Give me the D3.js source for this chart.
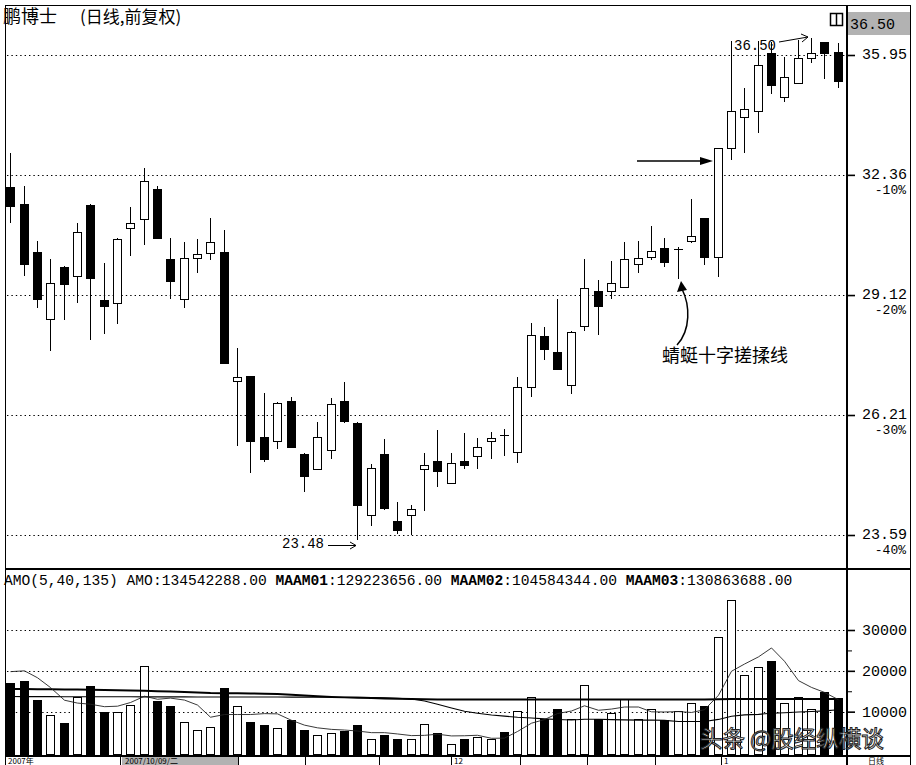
<!DOCTYPE html>
<html><head><meta charset="utf-8"><title>鹏博士</title>
<script src="https://cdn.jsdelivr.net/npm/d3@7/dist/d3.min.js"></script>
<style>
html,body{margin:0;padding:0;background:#fff;overflow:hidden}
svg{display:block}
.mono{font-family:"Liberation Mono","DejaVu Sans Mono",monospace}
.cjk{font-family:"Noto Sans CJK SC","Noto Sans",sans-serif}
</style></head><body>
<svg id="chart" width="916" height="765"></svg>
<script>
// ---------------- data ----------------
const opens  = [32.02,31.54,30.24,28.51,29.85,29.61,31.51,28.99,28.92,30.88,31.13,31.96,30.06,29.02,30.08,30.21,30.24,27.00,27.12,25.71,25.62,26.53,25.33,24.99,25.42,26.53,26.03,24.01,25.33,23.88,24.01,24.99,25.17,24.69,25.17,25.28,25.62,25.76,25.37,26.86,28.09,27.70,26.91,28.34,29.22,29.22,29.33,29.92,30.11,30.35,30.32,30.53,31.16,30.11,33.13,34.05,34.23,36.01,34.65,35.08,35.86,36.36,36.05];
const highs  = [32.99,32.04,30.53,30.06,29.87,31.02,31.53,29.95,30.61,31.46,32.55,32.04,30.61,30.51,30.59,31.16,30.83,27.80,27.13,26.72,26.50,26.63,25.34,26.05,26.60,26.98,26.05,25.11,25.66,24.28,24.22,25.35,25.87,25.35,25.80,25.68,25.82,25.89,27.10,28.41,28.31,29.02,28.22,30.06,29.51,30.00,30.51,30.53,30.94,30.61,30.38,31.68,31.17,33.14,36.40,34.92,36.40,36.36,35.89,36.43,36.50,36.37,36.33];
const lows   = [31.02,29.61,28.79,27.72,28.49,28.92,27.99,28.14,28.39,30.13,30.43,30.59,29.02,28.79,29.69,30.03,27.42,25.50,24.91,25.15,25.44,25.46,24.50,24.99,25.22,26.03,23.48,23.77,24.11,23.61,23.59,24.09,24.60,24.69,24.99,24.99,25.22,25.28,25.13,26.63,27.50,27.28,26.70,28.21,28.12,29.02,29.33,29.69,30.03,29.85,29.53,30.48,29.90,29.58,32.78,32.99,33.57,34.74,34.50,35.08,35.70,35.20,34.92];
const closes = [31.49,29.92,29.02,29.43,29.40,30.78,29.56,28.84,30.59,31.02,32.19,30.61,29.48,30.08,30.19,30.51,27.43,27.10,25.62,25.22,26.49,25.48,24.84,25.71,26.46,26.07,24.22,25.02,24.15,23.69,24.13,25.08,24.95,25.13,25.08,25.48,25.68,25.75,26.86,28.12,27.77,27.29,28.19,29.30,28.84,29.43,30.06,30.08,30.27,29.98,30.33,30.67,30.11,33.13,34.23,34.29,35.64,35.02,35.26,35.86,36.01,36.01,35.14];
// turnover (AMO), in 10^4 yuan
const amounts = [17000,17600,12900,9300,7200,13500,16200,9900,9900,11700,21200,12500,11300,7500,5600,6300,15800,11300,7500,6700,6000,7900,5400,4200,4800,5200,6700,3400,4200,3200,3200,7000,4800,2100,3400,3800,3300,5000,10200,13600,8200,10700,8100,16600,8100,9700,13200,8100,10700,7900,10200,12100,11500,28400,37300,19000,20900,22400,12100,13600,10700,14800,13450];
const maam1 = [19800,20000,18300,15900,12800,12100,11820,11220,11340,12240,13780,13040,13320,12840,11620,8640,9300,9300,9300,9520,9460,7880,6700,6040,5660,5500,5260,4860,4860,4540,4140,4200,4480,4060,4100,4220,3480,3520,5140,7180,8060,9540,10160,11440,10340,10640,11140,11140,9960,9920,10020,9800,10480,14020,19900,21660,23420,25600,22340,17600,15940,14720,12920];
const maam2 = [13700,13690,13680,13680,13670,13660,13650,13650,13640,13640,13630,13630,13620,13620,13610,13610,13600,13600,13590,13590,13580,13570,13560,13550,13530,13510,13490,13460,13420,13300,13100,12600,11800,10900,10100,9600,9200,8900,8650,8458,8238,8065,7945,8128,8150,8055,7980,7935,7955,7860,7585,7575,7580,8103,8895,9213,9340,9618,9733,9905,10023,10195,10458];
const maam3 = [15550,15530,15500,15480,15450,15430,15380,15320,15250,15180,15100,15020,14940,14820,14700,14570,14530,14490,14450,14390,14330,14150,13960,13780,13600,13500,13400,13320,13230,13160,13090,13030,13010,13000,12990,12990,12980,12980,12980,12980,12980,12980,12980,12990,12990,12990,12990,13000,13000,13000,13000,13000,13000,13030,13080,13090,13100,13110,13100,13100,13090,13090,13086];
const priceTicks = [35.95, 32.36, 29.12, 26.21, 23.59];
const pctLabels  = ["", "-10%", "-20%", "-30%", "-40%"];
const volTicks = [10000, 20000, 30000];
const volMinor = [5000, 15000, 25000];
const titleName = "鹏博士";
const titleSub = "(日线,前复权)";
const volHeader = [["AMO(5,40,135) ",false],["AMO:134542288.00 ",false],["MAAM01",true],[":129223656.00 ",false],["MAAM02",true],[":104584344.00 ",false],["MAAM03",true],[":130863688.00",false]];
const dateCells = [
  {x0:5,  x1:120, t:"2007年", hl:false},
  {x0:122,x1:238, t:"2007/10/09/二", hl:true},
  {x0:451,x1:520, t:"12", hl:false},
  {x0:721,x1:848, t:"1", hl:false}
];
const dateDividers = [120,238,305,379,451,520,587,655,721];

// ---------------- layout ----------------
const svg = d3.select("#chart");
const N = opens.length;
const idx = d3.range(N);
const L = 5, R = 847, RA = 910;
const x = d3.scaleBand().domain(idx).range([4, 845]).paddingInner(0.326).paddingOuter(0.163);
const bw = Math.round(x.bandwidth());
const left = i => Math.round(x(i));
const y = d3.scaleLog().domain([23.59, 35.95]).range([535, 55]);
const vy = d3.scaleLinear().domain([0, 30000]).range([752.5, 630]);

svg.append("rect").attr("width",916).attr("height",765).attr("fill","#fff");

// dotted grids
const grid = svg.append("g").attr("stroke","#000").attr("stroke-width",1.2).attr("stroke-dasharray","1.4,3");
grid.selectAll("line.pg").data(priceTicks).join("line").attr("class","pg")
  .attr("x1",L+2).attr("x2",R-1).attr("y1",d=>Math.round(y(d))+0.5).attr("y2",d=>Math.round(y(d))+0.5);
grid.selectAll("line.vg").data(volTicks).join("line").attr("class","vg")
  .attr("x1",L+2).attr("x2",R-1).attr("y1",d=>Math.round(vy(d))+0.5).attr("y2",d=>Math.round(vy(d))+0.5);

// candles
const cg = svg.append("g").attr("shape-rendering","crispEdges");
cg.selectAll("line.wick").data(idx).join("line").attr("class","wick")
  .attr("x1",i=>left(i)+4.5).attr("x2",i=>left(i)+4.5)
  .attr("y1",i=>y(highs[i])).attr("y2",i=>y(lows[i])).attr("stroke","#000");
idx.forEach(i=>{
  const o=opens[i], c=closes[i];
  const up = c>=o;
  const t = Math.round(y(Math.max(o,c))), b = Math.round(y(Math.min(o,c)));
  if (b - t < 2) {
    cg.append("line").attr("x1",left(i)).attr("x2",left(i)+bw).attr("y1",t+0.5).attr("y2",t+0.5).attr("stroke","#000").attr("stroke-width",1.5);
  } else {
    cg.append("rect").attr("x",left(i)+0.5).attr("y",t+0.5).attr("width",bw-1).attr("height",b-t)
      .attr("fill",up?"#fff":"#000").attr("stroke","#000");
  }
});

// volume bars
const vg = svg.append("g").attr("shape-rendering","crispEdges");
vg.selectAll("rect").data(idx).join("rect")
  .attr("x",i=>left(i)+0.5).attr("y",i=>Math.round(vy(amounts[i]))+0.5)
  .attr("width",bw-1).attr("height",i=>754-Math.round(vy(amounts[i])))
  .attr("fill",i=>closes[i]>=opens[i]?"#fff":"#000").attr("stroke","#000");

// moving averages
const line = arr => d3.line().x((d,i)=>left(i)+4.5).y(d=>vy(d))(arr);
svg.append("path").attr("d",line(maam3)).attr("fill","none").attr("stroke","#000").attr("stroke-width",2);
svg.append("path").attr("d",line(maam2)).attr("fill","none").attr("stroke","#000").attr("stroke-width",1.1);
svg.append("path").attr("d",line(maam1)).attr("fill","none").attr("stroke","#222").attr("stroke-width",0.9);

// frame
const fr = svg.append("g").attr("stroke","#000").attr("shape-rendering","crispEdges");
fr.append("line").attr("x1",L).attr("x2",RA+1).attr("y1",5.5).attr("y2",5.5);
fr.append("line").attr("x1",L+0.5).attr("x2",L+0.5).attr("y1",5).attr("y2",765);
fr.append("line").attr("x1",RA+0.5).attr("x2",RA+0.5).attr("y1",5).attr("y2",765);
fr.append("line").attr("x1",R).attr("x2",R).attr("y1",5).attr("y2",765).attr("stroke-width",2);
fr.append("line").attr("x1",L).attr("x2",RA+1).attr("y1",569).attr("y2",569).attr("stroke-width",2);
fr.append("line").attr("x1",L).attr("x2",RA+1).attr("y1",756).attr("y2",756).attr("stroke-width",1.5);

// price axis
const pa = svg.append("g").attr("transform",`translate(${R},0)`)
  .call(d3.axisRight(y).tickValues(priceTicks).tickFormat(d3.format(".2f")).tickSize(8).tickPadding(7));
pa.select(".domain").remove();
pa.selectAll(".tick line").attr("stroke-width",1.6);
pa.selectAll(".tick text").attr("class","mono").attr("font-size",15).attr("fill","#000").attr("dy","0.25em");
svg.append("g").selectAll("text").data(priceTicks.slice(1)).join("text").attr("class","mono")
  .attr("x",906).attr("y",d=>y(d)+19).attr("text-anchor","end").attr("font-size",13).text((d,i)=>pctLabels[i+1]);

// volume axis
const va = svg.append("g").attr("transform",`translate(${R},0)`)
  .call(d3.axisRight(vy).tickValues(volTicks).tickFormat(d3.format("d")).tickSize(8).tickPadding(7));
va.select(".domain").remove();
va.selectAll(".tick line").attr("stroke-width",1.6);
va.selectAll(".tick text").attr("class","mono").attr("font-size",15).attr("fill","#000");
const vm = svg.append("g").attr("transform",`translate(${R},0)`)
  .call(d3.axisRight(vy).tickValues(volMinor).tickFormat("").tickSize(5));
vm.select(".domain").remove();

// title
svg.append("text").attr("class","cjk").attr("x",3).attr("y",23).attr("font-size",18).text(titleName);
svg.append("text").attr("class","cjk").attr("x",80).attr("y",23).attr("font-size",17).text(titleSub);
// top-right price box + icon
svg.append("rect").attr("x",848).attr("y",12).attr("width",62).attr("height",23).attr("fill","#b2b2b2");
svg.append("text").attr("class","mono").attr("x",850).attr("y",29).attr("font-size",15).text("36.50");
svg.append("rect").attr("x",830.5).attr("y",13.5).attr("width",12).attr("height",12).attr("fill","none").attr("stroke","#000").attr("stroke-width",1.5);
svg.append("line").attr("x1",836.5).attr("x2",836.5).attr("y1",13).attr("y2",26).attr("stroke","#000").attr("stroke-width",1.5);

// volume header
const vh = svg.append("text").attr("class","mono").attr("x",4).attr("y",585).attr("font-size",14.6).attr("style","white-space:pre");
volHeader.forEach(([t,b])=>vh.append("tspan").attr("font-weight",b?"bold":"normal").text(t));

// annotations
const ann = svg.append("g").attr("stroke","#000").attr("fill","none");
// max label
svg.append("text").attr("class","mono").attr("x",734).attr("y",50).attr("font-size",14).text("36.50");
ann.append("line").attr("x1",779).attr("y1",42).attr("x2",808).attr("y2",37);
ann.append("path").attr("d","M801,34 L808,37 L802,42");
// min label
svg.append("text").attr("class","mono").attr("x",282).attr("y",548).attr("font-size",14).text("23.48");
ann.append("line").attr("x1",328).attr("y1",545.5).attr("x2",356).attr("y2",545.5);
ann.append("path").attr("d","M350,542 L356,545.5 L350,549");
// arrow to breakout candle
ann.append("line").attr("x1",637).attr("y1",161).attr("x2",704).attr("y2",161).attr("stroke-width",1.3);
svg.append("path").attr("d","M700,157 L713,161 L700,165 Z").attr("fill","#000");
// dragonfly doji annotation
ann.append("path").attr("d","M677,345 C691,330 690,305 682,289").attr("stroke-width",1.5);
svg.append("path").attr("d","M677,292 L681,281 L687,290 Z").attr("fill","#000");
svg.append("text").attr("class","cjk").attr("x",662).attr("y",362).attr("font-size",18).text("蜻蜓十字搓揉线");

// date strip
const ds = svg.append("g");
ds.selectAll("rect").data(dateCells.filter(d=>d.hl)).join("rect")
  .attr("x",d=>d.x0).attr("y",757).attr("width",d=>d.x1-d.x0).attr("height",8).attr("fill","#b2b2b2");
ds.selectAll("line").data(dateDividers).join("line")
  .attr("x1",d=>d+0.5).attr("x2",d=>d+0.5).attr("y1",756).attr("y2",765).attr("stroke","#000");
ds.selectAll("text").data(dateCells).join("text").attr("class","cjk")
  .attr("x",d=>d.x0+3).attr("y",764).attr("font-size",8).text(d=>d.t);
svg.append("text").attr("class","cjk").attr("x",868).attr("y",764).attr("font-size",8).text("日线");

// watermark
svg.append("text").attr("class","cjk").attr("x",700).attr("y",747).attr("font-size",22.5)
  .attr("fill","#fff").attr("fill-opacity",0.9).attr("stroke","#222").attr("stroke-width",1)
  .text("头条 @股经纵横谈");
</script>
</body></html>
